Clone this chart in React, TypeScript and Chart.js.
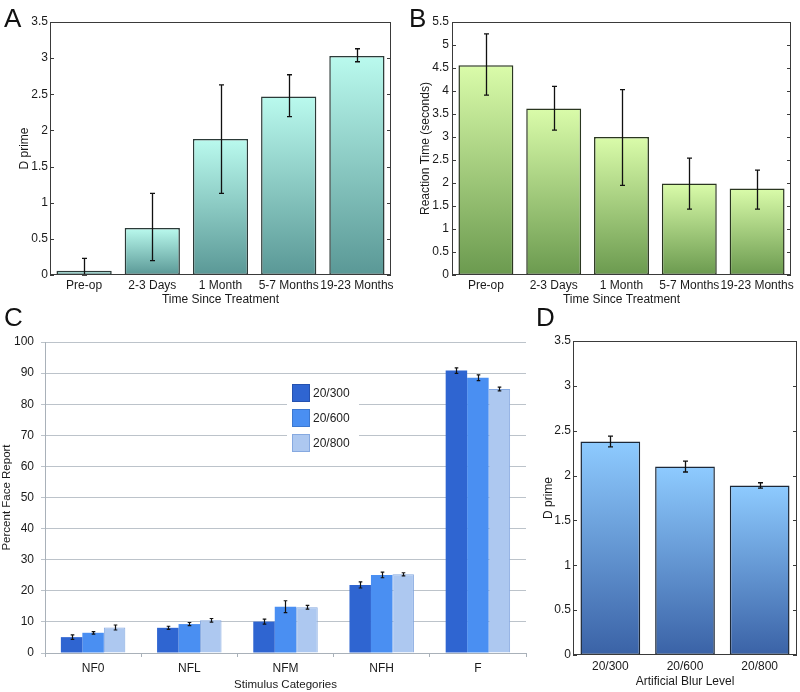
import React, { useEffect, useRef } from 'react';
import { Chart, registerables } from 'chart.js';

Chart.register(...registerables);

const FONT = "'Liberation Sans', Arial, Helvetica, sans-serif";

// ---------- Panel A: D prime over time ----------
const timeCategories = ['Pre-op', '2-3 Days', '1 Month', '5-7 Months', '19-23 Months'];
const dPrimeValues = [0.06, 0.65, 1.88, 2.47, 3.03];
const dPrimeLow = [0, 0.2, 1.13, 2.19, 2.95];
const dPrimeHigh = [0.23, 1.13, 2.63, 2.77, 3.13];

// ---------- Panel B: reaction time over time ----------
const reactionValues = [4.56, 3.62, 3.0, 1.99, 1.88];
const reactionLow = [3.91, 3.15, 1.95, 1.43, 1.43];
const reactionHigh = [5.24, 4.1, 4.03, 2.54, 2.28];

// ---------- Panel C: percent face report ----------
const stimulusCategories = ['NF0', 'NFL', 'NFM', 'NFH', 'F'];
const blurLevels = ['20/300', '20/600', '20/800'];
const face300 = [5.1, 8.1, 10.1, 21.9, 90.8];
const face600 = [6.5, 9.3, 14.9, 25.1, 88.5];
const face800 = [8.2, 10.5, 14.7, 25.3, 84.9];
const face300Err = [0.7, 0.5, 0.8, 1.0, 0.9];
const face600Err = [0.4, 0.5, 1.9, 0.9, 0.9];
const face800Err = [0.8, 0.6, 0.6, 0.5, 0.6];

// ---------- Panel D: D prime by blur ----------
const blurDPrime = [2.38, 2.1, 1.89];
const blurDPrimeErr = [0.06, 0.06, 0.03];

// ---------- plugins ----------
const errorBarPlugin = {
  id: 'errorBars',
  afterDatasetsDraw(chart: any, _args: any, opts: any) {
    if (!opts || !opts.lows) return;
    const { ctx } = chart;
    const y = chart.scales.y;
    ctx.save();
    ctx.strokeStyle = opts.color || '#111';
    ctx.lineWidth = opts.width || 1.2;
    chart.data.datasets.forEach((_ds: any, i: number) => {
      const meta = chart.getDatasetMeta(i);
      const lo = opts.lows[i];
      const hi = opts.highs[i];
      meta.data.forEach((bar: any, j: number) => {
        const x = Math.round(bar.x) + 0.5;
        const yl = y.getPixelForValue(lo[j]);
        const yh = y.getPixelForValue(hi[j]);
        const c = opts.cap || 2.5;
        ctx.beginPath();
        ctx.moveTo(x, yl);
        ctx.lineTo(x, yh);
        ctx.moveTo(x - c, yl);
        ctx.lineTo(x + c, yl);
        ctx.moveTo(x - c, yh);
        ctx.lineTo(x + c, yh);
        ctx.stroke();
      });
    });
    ctx.restore();
  },
};

const boxPlugin = {
  id: 'boxFrame',
  afterDatasetsDraw(chart: any, _args: any, opts: any) {
    if (!opts || !opts.enabled) return;
    const { ctx, chartArea: a } = chart;
    const y = chart.scales.y;
    ctx.save();
    ctx.strokeStyle = opts.color || '#333';
    ctx.lineWidth = 1;
    ctx.strokeRect(a.left + 0.5, a.top + 0.5, a.right - a.left - 1, a.bottom - a.top - 1);
    ctx.beginPath();
    y.ticks.forEach((t: any) => {
      const py = Math.round(y.getPixelForValue(t.value)) + 0.5;
      ctx.moveTo(a.left, py);
      ctx.lineTo(a.left + 4, py);
      ctx.moveTo(a.right - 4, py);
      ctx.lineTo(a.right, py);
    });
    ctx.stroke();
    ctx.restore();
  },
};

const insetLegendPlugin = {
  id: 'insetLegend',
  afterDatasetsDraw(chart: any, _args: any, opts: any) {
    if (!opts || !opts.enabled) return;
    const { ctx } = chart;
    ctx.save();
    ctx.fillStyle = '#ffffff';
    ctx.fillRect(opts.x - 5, opts.y - 4, opts.boxW, opts.boxH);
    chart.data.datasets.forEach((ds: any, i: number) => {
      const yy = opts.y + i * opts.gap;
      ctx.fillStyle = ds.backgroundColor;
      ctx.fillRect(opts.x, yy, opts.size, opts.size);
      ctx.strokeStyle = ds.legendBorder || ds.backgroundColor;
      ctx.lineWidth = 1;
      ctx.strokeRect(opts.x + 0.5, yy + 0.5, opts.size - 1, opts.size - 1);
      ctx.fillStyle = '#222';
      ctx.font = `12px ${FONT}`;
      ctx.textBaseline = 'middle';
      ctx.textAlign = 'left';
      ctx.fillText(ds.label, opts.x + opts.size + 3, yy + opts.size / 2 + 0.5);
    });
    ctx.restore();
  },
};

function gradientFill(top: string, bottom: string) {
  return (c: any) => {
    const chart = c.chart;
    if (!chart.chartArea || c.type !== 'data') return top;
    const y = chart.scales.y;
    const y0 = y.getPixelForValue(c.raw);
    const y1 = y.getPixelForValue(0);
    if (!isFinite(y0) || !isFinite(y1) || y0 === y1) return top;
    const g = chart.ctx.createLinearGradient(0, y0, 0, y1);
    g.addColorStop(0, top);
    g.addColorStop(1, bottom);
    return g;
  };
}

const plainNumber = (v: any) => `${+v}`;

function boxedBarConfig(p: {
  labels: string[];
  values: number[];
  low: number[];
  high: number[];
  top: string;
  bottom: string;
  border: string;
  yMax: number;
  yTitle: string;
  xTitle: string;
  yWidth: number;
  xHeight: number;
  padTop: number;
  padRight: number;
  yTitlePad: number;
  yTickPad: number;
  xTickPad: number;
  xTitlePadBottom: number;
  barPct: number;
}) {
  return {
    type: 'bar',
    data: {
      labels: p.labels,
      datasets: [
        {
          data: p.values,
          backgroundColor: gradientFill(p.top, p.bottom),
          borderColor: p.border,
          borderWidth: 1.5,
          borderSkipped: false,
          barPercentage: p.barPct,
          categoryPercentage: 1,
        },
      ],
    },
    options: {
      responsive: false,
      maintainAspectRatio: false,
      animation: false,
      layout: { padding: { top: p.padTop, right: p.padRight, left: 0, bottom: 0 } },
      plugins: {
        legend: { display: false },
        tooltip: { enabled: false },
        errorBars: { lows: [p.low], highs: [p.high], color: '#111', width: 1.3, cap: 2.5 },
        boxFrame: { enabled: true, color: '#3a3a3a' },
      },
      scales: {
        x: {
          grid: { display: false, drawTicks: false },
          border: { display: false },
          ticks: { color: '#1a1a1a', font: { family: FONT, size: 12 }, padding: p.xTickPad, maxRotation: 0, autoSkip: false },
          title: {
            display: true,
            text: p.xTitle,
            color: '#1a1a1a',
            font: { family: FONT, size: 12 },
            padding: { top: 0, bottom: p.xTitlePadBottom },
          },
          afterFit: (s: any) => {
            s.height = p.xHeight;
          },
        },
        y: {
          min: 0,
          max: p.yMax,
          grid: { display: false, drawTicks: false },
          border: { display: false },
          ticks: {
            stepSize: 0.5,
            color: '#1a1a1a',
            font: { family: FONT, size: 12 },
            padding: p.yTickPad,
            callback: plainNumber,
          },
          title: {
            display: true,
            text: p.yTitle,
            color: '#1a1a1a',
            font: { family: FONT, size: 12 },
            padding: { top: p.yTitlePad, bottom: 0 },
          },
          afterFit: (s: any) => {
            s.width = p.yWidth;
          },
        },
      },
    },
    plugins: [errorBarPlugin, boxPlugin],
  };
}

function configA() {
  return boxedBarConfig({
    labels: timeCategories,
    values: dPrimeValues,
    low: dPrimeLow,
    high: dPrimeHigh,
    top: '#bafaee',
    bottom: '#5a9896',
    border: '#2c3a38',
    yMax: 3.5,
    yTitle: 'D prime',
    xTitle: 'Time Since Treatment',
    yWidth: 50,
    xHeight: 35,
    padTop: 22,
    padRight: 9,
    yTitlePad: 17,
    yTickPad: 2,
    xTickPad: 3,
    xTitlePadBottom: 3,
    barPct: 0.81,
  });
}

function configB() {
  return boxedBarConfig({
    labels: timeCategories,
    values: reactionValues,
    low: reactionLow,
    high: reactionHigh,
    top: '#dafcaa',
    bottom: '#6b9a4f',
    border: '#2a3620',
    yMax: 5.5,
    yTitle: 'Reaction Time (seconds)',
    xTitle: 'Time Since Treatment',
    yWidth: 52,
    xHeight: 35,
    padTop: 22,
    padRight: 9,
    yTitlePad: 18,
    yTickPad: 3,
    xTickPad: 3,
    xTitlePadBottom: 3,
    barPct: 0.81,
  });
}

function configD() {
  return boxedBarConfig({
    labels: blurLevels,
    values: blurDPrime,
    low: blurDPrime.map((v, i) => v - blurDPrimeErr[i]),
    high: blurDPrime.map((v, i) => v + blurDPrimeErr[i]),
    top: '#8ecbff',
    bottom: '#3a62a6',
    border: '#1c2838',
    yMax: 3.5,
    yTitle: 'D prime',
    xTitle: 'Artificial Blur Level',
    yWidth: 43,
    xHeight: 37,
    padTop: 41,
    padRight: 3,
    yTitlePad: 11,
    yTickPad: 2,
    xTickPad: 4,
    xTitlePadBottom: 3,
    barPct: 0.8,
  });
}

function configC() {
  const series = [face300, face600, face800];
  const errs = [face300Err, face600Err, face800Err];
  const colors = ['#2f65d1', '#4a8ff2', '#adc8f0'];
  const borders = ['#2f65d1', '#4a8ff2', '#86a9e0'];
  const legendBorders = ['#2552b0', '#3c78d0', '#86a9e0'];
  return {
    type: 'bar',
    data: {
      labels: stimulusCategories,
      datasets: series.map((d, i) => ({
        label: blurLevels[i],
        data: d,
        backgroundColor: colors[i],
        borderColor: borders[i],
        legendBorder: legendBorders[i],
        borderWidth: i === 2 ? 1 : 0,
        barPercentage: 1,
        categoryPercentage: 0.67,
      })),
    },
    options: {
      responsive: false,
      maintainAspectRatio: false,
      animation: false,
      layout: { padding: { top: 42, right: 14, left: 0, bottom: 0 } },
      plugins: {
        legend: { display: false },
        tooltip: { enabled: false },
        errorBars: {
          lows: series.map((d, i) => d.map((v, j) => v - errs[i][j])),
          highs: series.map((d, i) => d.map((v, j) => v + errs[i][j])),
          color: '#111',
          width: 1.2,
          cap: 1.8,
        },
        insetLegend: { enabled: true, x: 292, y: 84, size: 18, gap: 25, boxW: 72, boxH: 76 },
      },
      scales: {
        x: {
          grid: { display: true, drawOnChartArea: false, drawTicks: true, tickLength: 4, color: '#a9b1b9' },
          border: { display: true, color: '#a9b1b9' },
          ticks: { color: '#1a1a1a', font: { family: FONT, size: 12 }, padding: 4, maxRotation: 0, autoSkip: false },
          title: {
            display: true,
            text: 'Stimulus Categories',
            color: '#1a1a1a',
            font: { family: FONT, size: 11.5 },
            padding: { top: 0, bottom: 0 },
          },
          afterFit: (s: any) => {
            s.height = 39;
          },
        },
        y: {
          min: 0,
          max: 100,
          grid: { display: true, drawTicks: true, tickLength: 4, color: '#bcc3ca' },
          border: { display: true, color: '#a9b1b9' },
          ticks: { stepSize: 10, color: '#1a1a1a', font: { family: FONT, size: 12 }, padding: 7 },
          title: {
            display: true,
            text: 'Percent Face Report',
            color: '#1a1a1a',
            font: { family: FONT, size: 11.5 },
            padding: { top: 0, bottom: 0 },
          },
          afterFit: (s: any) => {
            s.width = 45;
          },
        },
      },
    },
    plugins: [errorBarPlugin, insetLegendPlugin],
  };
}

function ChartBox(props: { left: number; top: number; width: number; height: number; make: () => any }) {
  const ref = useRef<HTMLCanvasElement | null>(null);
  useEffect(() => {
    if (!ref.current) return;
    const chart = new Chart(ref.current, props.make());
    return () => chart.destroy();
  }, []);
  return (
    <canvas
      ref={ref}
      width={props.width}
      height={props.height}
      style={{ position: 'absolute', left: props.left, top: props.top, width: props.width, height: props.height, display: 'block' }}
    />
  );
}

function PanelLetter(props: { text: string; left: number; top: number }) {
  return (
    <div
      style={{
        position: 'absolute',
        left: props.left,
        top: props.top,
        fontFamily: FONT,
        fontSize: 26,
        lineHeight: 1,
        color: '#111',
      }}
    >
      {props.text}
    </div>
  );
}

export default function App() {
  return (
    <div style={{ position: 'absolute', left: 0, top: 0, width: 800, height: 692, background: '#fff', overflow: 'hidden' }}>
      <ChartBox left={0} top={0} width={400} height={310} make={configA} />
      <ChartBox left={400} top={0} width={400} height={310} make={configB} />
      <ChartBox left={0} top={300} width={540} height={392} make={configC} />
      <ChartBox left={530} top={300} width={270} height={392} make={configD} />
      <PanelLetter text="A" left={4} top={5} />
      <PanelLetter text="B" left={409} top={5} />
      <PanelLetter text="C" left={4} top={304} />
      <PanelLetter text="D" left={536} top={304} />
    </div>
  );
}
